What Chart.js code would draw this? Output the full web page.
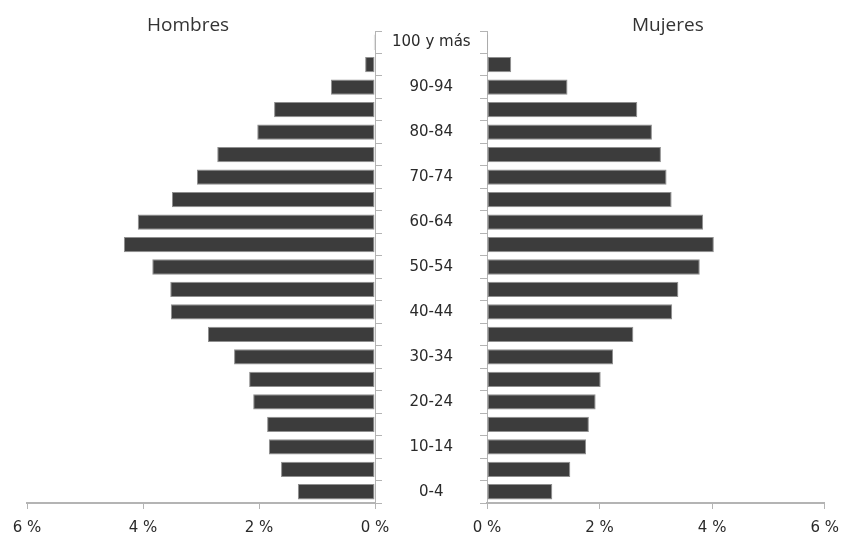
<!DOCTYPE html>
<html>
<head>
<meta charset="utf-8">
<title>Pirámide de población</title>
<script src="https://cdn.jsdelivr.net/npm/chart.js@4/dist/chart.umd.min.js"></script>
<style>
  html, body { margin: 0; padding: 0; background: #fff; }
  #wrap { position: relative; width: 849px; height: 540px; overflow: hidden; }
  canvas { position: absolute; top: 0; }
  #left { left: 0; }
  #right { left: 431px; }
  .ttl { position: absolute; top: 11px; font-family: "Open Sans", sans-serif; font-size: 19px; color: #333; }
</style>
</head>
<body>
<div id="wrap">
  <canvas id="left" width="487" height="540"></canvas>
  <canvas id="right" width="418" height="540"></canvas>
  <div class="ttl" style="left:147px">Hombres</div>
  <div class="ttl" style="left:632px">Mujeres</div>
</div>
<script>
// age groups, bottom to top
var GRUPOS = ['0-4', '5-9', '10-14', '15-19', '20-24', '25-29', '30-34', '35-39',
  '40-44', '45-49', '50-54', '55-59', '60-64', '65-69', '70-74', '75-79',
  '80-84', '85-89', '90-94', '95-99', '100 y más'];

// % of population
var HOMBRES = [1.33, 1.62, 1.83, 1.86, 2.10, 2.17, 2.43, 2.88, 3.52, 3.53, 3.84,
  4.33, 4.09, 3.50, 3.07, 2.72, 2.03, 1.74, 0.76, 0.17, 0.02];
var MUJERES = [1.16, 1.48, 1.76, 1.81, 1.93, 2.02, 2.24, 2.60, 3.29, 3.40, 3.78,
  4.03, 3.84, 3.28, 3.19, 3.09, 2.93, 2.67, 1.43, 0.43, 0.02];

var X_TICKS = [0, 2, 4, 6];

var BAR = '#3c3c3c';
var EDGE = '#8f8f8f';
var AXIS = '#b4b4b4';
var TXT = '#2a2a2a';
var FONT = { family: '"DejaVu Sans", sans-serif', size: 15 };

function xScale(reverse) {
  return {
    type: 'linear',
    min: 0,
    max: 6,
    reverse: reverse,
    afterBuildTicks: function(s) {
      s.ticks = X_TICKS.map(function(v) { return { value: v }; });
    },
    // keep the axis line at y=503
    afterFit: function(s) { s.height = 37; },
    grid: { drawOnChartArea: false, drawTicks: true, tickLength: 6, color: AXIS, lineWidth: 1 },
    border: { display: true, color: AXIS, width: 2 },
    ticks: {
      color: TXT, font: FONT, padding: 10, maxRotation: 0,
      callback: function(v) { return v + ' %'; }
    }
  };
}

function barSet(label, data) {
  return {
    label: label,
    data: data,
    backgroundColor: BAR,
    borderColor: EDGE,
    borderWidth: 1,
    borderSkipped: false,
    barPercentage: 0.68,
    categoryPercentage: 1
  };
}

var common = {
  responsive: false,
  devicePixelRatio: 1,
  animation: false,
  indexAxis: 'y',
  plugins: { legend: { display: false }, tooltip: { enabled: false } }
};

// men: reversed x, age labels on the right side (the middle gap)
new Chart(document.getElementById('left'), {
  type: 'bar',
  data: { labels: GRUPOS, datasets: [barSet('Hombres', HOMBRES)] },
  options: Object.assign({}, common, {
    layout: { padding: { left: 27, top: 31, bottom: 0, right: 0 } },
    scales: {
      x: xScale(true),
      y: {
        type: 'category',
        position: 'right',
        reverse: true,
        afterFit: function(s) { s.width = 112; },
        grid: { offset: true, drawOnChartArea: false, drawTicks: true, tickLength: 7, color: AXIS },
        border: { display: true, color: AXIS, width: 1 },
        ticks: {
          autoSkip: false, color: TXT, font: FONT, padding: 10, crossAlign: 'center',
          callback: function(v, i) { return i % 2 === 0 ? GRUPOS[i] : ''; }
        }
      }
    }
  })
});

// women
new Chart(document.getElementById('right'), {
  type: 'bar',
  data: { labels: GRUPOS, datasets: [barSet('Mujeres', MUJERES)] },
  options: Object.assign({}, common, {
    layout: { padding: { left: 0, top: 31, bottom: 0, right: 15 } },
    scales: {
      x: xScale(false),
      y: {
        type: 'category',
        position: 'left',
        reverse: true,
        afterFit: function(s) { s.width = 56; },
        grid: { offset: true, drawOnChartArea: false, drawTicks: true, tickLength: 7, color: AXIS },
        border: { display: true, color: AXIS, width: 1 },
        ticks: { display: false }
      }
    }
  })
});
</script>
</body>
</html>
